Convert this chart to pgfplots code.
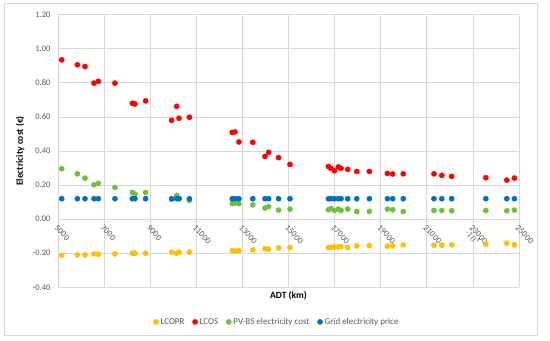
\documentclass[border=0pt]{standalone}
\usepackage{pgfplots}
\pgfplotsset{compat=1.18}
\usepackage{pgfplotstable}
\usepackage{fontspec}
\setmainfont{Carlito}
\definecolor{cY}{HTML}{FFC000}
\definecolor{cR}{HTML}{FF0000}
\definecolor{cG}{HTML}{70C040}
\definecolor{cB}{HTML}{0070C0}
\definecolor{gridgray}{HTML}{D9D9D9}
\definecolor{txtgray}{HTML}{595959}
\pgfplotstableread{
x lcopr lcos pv grid
5160 -0.212 0.935 0.296 0.12
5840 -0.210 0.906 0.266 0.12
6170 -0.210 0.896 0.241 0.12
6560 -0.204 0.798 0.202 0.12
6750 -0.206 0.809 0.210 0.12
7470 -0.204 0.798 0.186 0.12
8225 -0.200 0.680 0.157 0.12
8340 -0.200 0.676 0.147 0.12
8800 -0.200 0.694 0.157 0.12
9930 -0.194 0.580 0.117 0.12
10150 -0.200 0.662 0.139 0.12
10250 -0.194 0.592 0.122 0.12
10700 -0.194 0.598 0.110 0.12
12560 -0.185 0.509 0.092 0.12
12680 -0.187 0.512 0.095 0.12
12850 -0.185 0.453 0.091 0.12
13450 -0.181 0.451 0.084 0.12
13980 -0.173 0.368 0.065 0.12
14140 -0.177 0.392 0.074 0.12
14570 -0.169 0.361 0.053 0.12
15065 -0.167 0.321 0.059 0.12
16730 -0.167 0.309 0.055 0.12
16840 -0.165 0.298 0.062 0.12
16990 -0.163 0.284 0.051 0.12
17160 -0.163 0.306 0.059 0.12
17280 -0.161 0.298 0.051 0.12
17570 -0.167 0.292 0.059 0.12
17960 -0.157 0.280 0.045 0.12
18510 -0.155 0.280 0.045 0.12
19290 -0.159 0.268 0.059 0.12
19520 -0.157 0.265 0.055 0.12
19980 -0.151 0.266 0.045 0.12
21310 -0.153 0.266 0.051 0.12
21650 -0.153 0.257 0.051 0.12
22080 -0.151 0.251 0.049 0.12
23560 -0.147 0.243 0.051 0.12
24470 -0.141 0.229 0.049 0.12
24800 -0.151 0.241 0.053 0.12
}\datatable
\begin{document}
\begin{tikzpicture}
\useasboundingbox (-58bp,-53.7bp) rectangle (492bp,287.3bp);
\draw[gridgray, line width=0.8bp] (-54bp,-47.7bp) rectangle (479bp,283.8bp);
\begin{axis}[
  at={(0,0)}, anchor=south west,
  scale only axis, width=461bp, height=272.6bp,
  xmin=5000, xmax=25000, ymin=-0.4, ymax=1.2,
  axis line style={draw=none},
  grid=major, major grid style={draw=gridgray, line width=0.8bp},
  major tick length=0,
  xtick={5000,7000,9000,11000,13000,15000,17000,19000,21000,23000,25000},
  xticklabels={5000,7000,9000,11000,13000,15000,17000,19000,21000,23000,25000},
  ytick={-0.4,-0.2,0,0.2,0.4,0.6,0.8,1.0,1.2},
  yticklabels={-0.40,-0.20,0.00,0.20,0.40,0.60,0.80,1.00,1.20},
  xticklabel style={yshift=64bp, font=\fontsize{8.5bp}{10bp}\selectfont, text=txtgray, rotate=-45, anchor=north west, inner sep=1bp},
  yticklabel style={font=\fontsize{8.5bp}{10bp}\selectfont, text=txtgray, anchor=east, xshift=-4bp},
  xlabel={ADT (km)},
  ylabel={Electricity cost (€)},
  xlabel style={at={(axis description cs:0.5,0)}, anchor=north, yshift=-1bp, font=\fontsize{9.5bp}{11bp}\selectfont\bfseries},
  ylabel style={at={(axis description cs:-0.0824,0.5)}, anchor=center, font=\fontsize{9.5bp}{11bp}\selectfont\bfseries},
  legend style={at={(axis description cs:0.475,-0.127)}, anchor=center, draw=none, fill=none,
    font=\fontsize{9bp}{11bp}\selectfont, text=txtgray, legend columns=-1,
    /tikz/every even column/.append style={column sep=6bp}},
  legend image code/.code={\draw[mark size=2.6bp] plot coordinates {(0bp,0bp)};},
  every axis plot/.append style={only marks, mark=*, mark size=2.6bp},
  clip=false,
]
\addplot[cY, mark options={fill=cY, draw=cY}] table[x=x, y=lcopr] {\datatable};
\addlegendentry{LCOPR}
\addplot[cR, mark options={fill=cR, draw=cR}] table[x=x, y=lcos] {\datatable};
\addlegendentry{LCOS}
\addplot[cG, mark options={fill=cG, draw=cG}] table[x=x, y=pv] {\datatable};
\addlegendentry{PV-BS electricity cost}
\addplot[cB, mark options={fill=cB, draw=cB}] table[x=x, y=grid] {\datatable};
\addlegendentry{Grid electricity price}
\end{axis}
\end{tikzpicture}
\end{document}
